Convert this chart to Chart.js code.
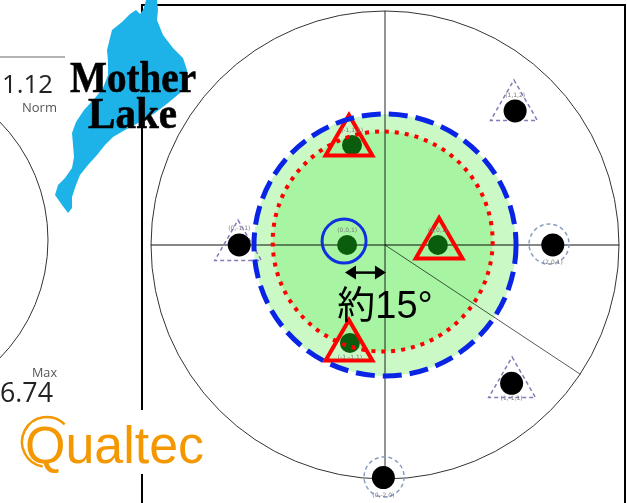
<!DOCTYPE html>
<html lang="ja">
<head>
<meta charset="utf-8">
<title>約15°</title>
<script src="https://cdn.jsdelivr.net/npm/chart.js@4.4.0/dist/chart.umd.min.js"></script>
<style>
  html, body { margin: 0; padding: 0; background: #fff; }
  #wrap { position: relative; width: 627px; height: 503px; overflow: hidden; }
  #myChart, #deco { position: absolute; left: 0; top: 0; }
</style>
</head>
<body>
<div id="wrap">
  <canvas id="myChart" width="627" height="503"></canvas>
  <svg id="deco" width="627" height="503" xmlns="http://www.w3.org/2000/svg">
    <!-- gauge on the left -->
    <circle cx="-121" cy="240" r="169" fill="none" stroke="#333" stroke-width="1"/>
    <line x1="0" y1="57" x2="65" y2="57" stroke="#b4b4b4" stroke-width="2"/>
    <text x="2" y="93" font-family="Open Sans" font-size="26" fill="#222" textLength="51" lengthAdjust="spacingAndGlyphs">1.12</text>
    <text x="22" y="112" font-family="Open Sans" font-size="12" fill="#555" textLength="35" lengthAdjust="spacingAndGlyphs">Norm</text>
    <text x="32" y="377" font-family="Open Sans" font-size="12" fill="#555" textLength="25" lengthAdjust="spacingAndGlyphs">Max</text>
    <text x="0" y="402" font-family="Open Sans" font-size="27" fill="#222" textLength="53" lengthAdjust="spacingAndGlyphs">6.74</text>
    <!-- Mother Lake logo -->
    <polygon fill="#1db3e9" points="146,0 157,0 158,10 157,20 163,35 173,48 183,58 187,70 186,83 180,93 168,103 155,113 140,122 125,130 113,137 105,145 97,155 88,165 80,175 76,185 72,197 72,208 68,213 62,205 55,195 58,185 65,178 72,168 74,157 73,145 72,133 76,122 84,110 95,98 103,88 108,75 108,62 107,50 110,38 112,30 122,22 130,14 136,10 140,14 143,10 145,4"/>
    <text x="70" y="92" font-family="Liberation Serif" font-weight="bold" font-size="44" fill="#000" stroke="#000" stroke-width="0.6" textLength="126" lengthAdjust="spacingAndGlyphs">Mother</text>
    <text x="88" y="128" font-family="Liberation Serif" font-weight="bold" font-size="44" fill="#000" stroke="#000" stroke-width="0.6" textLength="89" lengthAdjust="spacingAndGlyphs">Lake</text>
    <!-- Qualtec logo -->
    <rect x="15" y="410" width="195" height="64" fill="#fff"/>
    <path d="M64.7,424.3 A25,25 0 1 0 42.7,466.6" fill="none" stroke="#f39800" stroke-width="2.5"/>
    <text x="25" y="463" font-family="Liberation Sans" font-size="51" fill="#f39800" textLength="179" lengthAdjust="spacingAndGlyphs">Qualtec</text>
  </svg>
</div>
<script>
// plot units: outer ring radius = 100, centre at (0, 0)
const ringX = [0, 0, -1];
const ringY = [0, 0, 1.5];
const ringR = [100, 56, 47];

// cross lines: vertical, horizontal, diagonal
const crossX = [[0, 0], [-100, 100], [0, 83.4]];
const crossY = [[100, -100], [0, 0], [0, -55.2]];

// measured points
const greenX = [-14.1, -16.2, 22.6, -15.0];
const greenY = [42.7, 0, 0, -41.9];
const greenLabels = ['(-1,1,1)', '(0,0,1)', '(1,0,1)', '(-1,-1,1)'];

const redX = [-15.4, 23.1, -15.4];
const redY = [44.0, 0, -43.6];

const blueX = [-17.5];
const blueY = [1.7];

const blackX = [55.6, -62.3, 71.7, 54.1, -0.7];
const blackY = [57.3, 0, 0, -59.1, -99.4];
const blackLabels = ['(1,1,2)', '(0,-1,1)', '(2,0,1)', '(1,-1,1)', '(0,-2,0)'];

const haloTriX = [55.1, -62.8, 54.3];
const haloTriY = [59.0, -0.9, -59.4];
const haloCircX = [70.1, -0.4];
const haloCircY = [0.4, -99.1];

const arrowX = [-17.1, 0.4];
const arrowY = [-11.8, -11.8];
const noteText = '約15°';
const noteX = 0;
const noteY = -31.2;

function pts(xs, ys) {
    return xs.map(function (x, i) { return { x: x, y: ys[i] }; });
}

var dashPlugin = {
    id: 'dash',
    beforeDatasetDraw: function (chart, args) {
        var d = chart.data.datasets[args.index].dash;
        if (d) chart.ctx.setLineDash(d);
    },
    afterDatasetDraw: function (chart) {
        chart.ctx.setLineDash([]);
    }
};

function pr(chart, r) {
    return chart.scales.x.getPixelForValue(r) - chart.scales.x.getPixelForValue(0);
}

function ring(chart, i) {
    var c = chart.ctx;
    c.beginPath();
    c.arc(chart.scales.x.getPixelForValue(ringX[i]), chart.scales.y.getPixelForValue(ringY[i]), pr(chart, ringR[i]), 0, Math.PI * 2);
}

var ringPlugin = {
    id: 'rings',
    beforeDatasetsDraw: function (chart) {
        var c = chart.ctx, a = chart.chartArea;
        c.save();
        // frame
        c.strokeStyle = '#000';
        c.lineWidth = 2;
        c.beginPath();
        c.moveTo(a.left, a.bottom + 5);
        c.lineTo(a.left, a.top);
        c.lineTo(a.right, a.top);
        c.lineTo(a.right, a.bottom + 5);
        c.stroke();
        // green zones
        ring(chart, 1);
        c.fillStyle = '#cbf9c6';
        c.fill();
        ring(chart, 2);
        c.fillStyle = '#a7f5a2';
        c.fill();
        // outer ring
        ring(chart, 0);
        c.strokeStyle = '#333';
        c.lineWidth = 1;
        c.stroke();
        c.restore();
    },
    afterDatasetsDraw: function (chart) {
        var c = chart.ctx, sx = chart.scales.x, sy = chart.scales.y;
        c.save();
        // red dotted
        ring(chart, 2);
        c.setLineDash([4, 6]);
        c.strokeStyle = '#ff0000';
        c.lineWidth = 4;
        c.stroke();
        // blue dashed
        ring(chart, 1);
        c.setLineDash([19, 8]);
        c.strokeStyle = '#0a24e6';
        c.lineWidth = 5;
        c.stroke();
        c.setLineDash([]);

        // double arrow
        var x1 = sx.getPixelForValue(arrowX[0]), x2 = sx.getPixelForValue(arrowX[1]);
        var y = sy.getPixelForValue(arrowY[0]);
        c.strokeStyle = '#000';
        c.fillStyle = '#000';
        c.lineWidth = 2.5;
        c.beginPath();
        c.moveTo(x1 + 6, y);
        c.lineTo(x2 - 6, y);
        c.stroke();
        c.beginPath();
        c.moveTo(x1, y); c.lineTo(x1 + 11, y - 7); c.lineTo(x1 + 11, y + 7); c.closePath();
        c.moveTo(x2, y); c.lineTo(x2 - 11, y - 7); c.lineTo(x2 - 11, y + 7); c.closePath();
        c.fill();

        // note
        c.font = '38px "Liberation Sans", "Noto Sans CJK JP"';
        c.textAlign = 'center';
        c.textBaseline = 'alphabetic';
        c.fillText(noteText, sx.getPixelForValue(noteX), sy.getPixelForValue(noteY));

        // tiny point labels
        c.font = '6px "DejaVu Sans"';
        c.fillStyle = '#777';
        var gDy = [-13, -13, -13, 16];
        greenLabels.forEach(function (t, i) {
            c.fillText(t, sx.getPixelForValue(greenX[i]), sy.getPixelForValue(greenY[i]) + gDy[i]);
        });
        var bDy = [-14, -15, 19, 17, 19];
        blackLabels.forEach(function (t, i) {
            c.fillText(t, sx.getPixelForValue(blackX[i]), sy.getPixelForValue(blackY[i]) + bDy[i]);
        });
        c.restore();
    }
};

var crossColors = ['rgba(0,0,0,0.47)', 'rgba(0,0,0,0.47)', 'rgba(0,0,0,0.65)'];
var crossWidths = [1.8, 1.8, 1];

var datasets = [
    {
        label: 'red', data: pts(redX, redY), pointStyle: 'triangle', pointRadius: 27,
        pointBorderColor: '#ff0000', pointBorderWidth: 4, pointBackgroundColor: 'rgba(0,0,0,0)'
    },
    {
        label: 'blue', data: pts(blueX, blueY), pointStyle: 'circle', pointRadius: 22,
        pointBorderColor: '#1030e0', pointBorderWidth: 3, pointBackgroundColor: 'rgba(0,0,0,0)'
    },
    {
        label: 'green', data: pts(greenX, greenY), pointStyle: 'circle', pointRadius: 10,
        pointBorderWidth: 0, pointBackgroundColor: '#0b5d0e'
    },
    {
        label: 'black', data: pts(blackX, blackY), pointStyle: 'circle', pointRadius: 11.5,
        pointBorderWidth: 0, pointBackgroundColor: '#000'
    },
    {
        label: 'haloTri', data: pts(haloTriX, haloTriY), pointStyle: 'triangle', pointRadius: 27,
        pointBorderColor: '#8878b8', pointBorderWidth: 1.5, pointBackgroundColor: 'rgba(0,0,0,0)', dash: [4, 3]
    },
    {
        label: 'haloCirc', data: pts(haloCircX, haloCircY), pointStyle: 'circle', pointRadius: 20,
        pointBorderColor: '#8a9cc0', pointBorderWidth: 1.5, pointBackgroundColor: 'rgba(0,0,0,0)', dash: [4, 3]
    }
];
crossX.forEach(function (xs, i) {
    datasets.push({
        label: 'cross' + i, data: pts(xs, crossY[i]), showLine: true, pointRadius: 0,
        borderColor: crossColors[i], borderWidth: crossWidths[i], fill: false
    });
});

var ctx = document.getElementById('myChart').getContext('2d');
var chart = new Chart(ctx, {
    type: 'scatter',
    data: { datasets: datasets },
    options: {
        responsive: false,
        animation: false,
        events: [],
        layout: { autoPadding: false, padding: { left: 142, top: 5, right: 2, bottom: 0 } },
        plugins: { legend: { display: false }, tooltip: { enabled: false } },
        scales: {
            x: { type: 'linear', min: -103.85, max: 102.56, display: false },
            y: { type: 'linear', min: -110.26, max: 102.56, display: false }
        }
    },
    plugins: [dashPlugin, ringPlugin]
});
</script>
</body>
</html>
